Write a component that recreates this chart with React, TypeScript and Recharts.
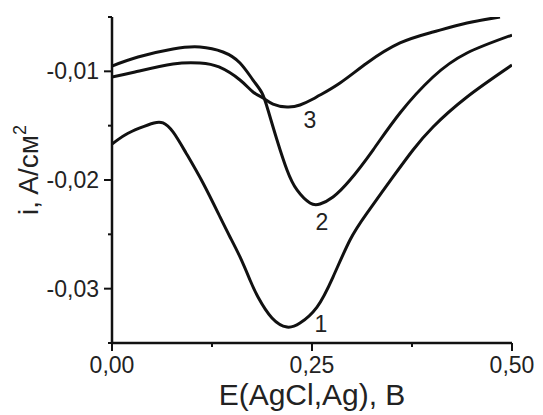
import React from 'react';
import { LineChart, Line, XAxis, YAxis, ReferenceDot, Label } from 'recharts';

// Curve 1
const curve1X = [0, 0.01625, 0.035, 0.0525, 0.06375, 0.07625, 0.0925, 0.11375, 0.135, 0.1475, 0.16, 0.1725, 0.1825, 0.2, 0.21875, 0.235, 0.25625, 0.27625, 0.2975, 0.31875, 0.35125, 0.37625, 0.40125, 0.44375, 0.5];
const curve1Y = [-0.01669, -0.01586, -0.01521, -0.01475, -0.01475, -0.01558, -0.01751, -0.02028, -0.0234, -0.02524, -0.02708, -0.0292, -0.03077, -0.0327, -0.03353, -0.03316, -0.03169, -0.02893, -0.02552, -0.02304, -0.01972, -0.01724, -0.01512, -0.01236, -0.00942];

// Curve 2
const curve2X = [0, 0.0325, 0.07625, 0.11, 0.13875, 0.16, 0.17625, 0.1875, 0.195, 0.20625, 0.21875, 0.23125, 0.2475, 0.26, 0.27625, 0.2975, 0.32625, 0.36, 0.40125, 0.44375, 0.5];
const curve2Y = [-0.00951, -0.00868, -0.00794, -0.00776, -0.00822, -0.00923, -0.0108, -0.01199, -0.01356, -0.01632, -0.01908, -0.02092, -0.02212, -0.02221, -0.02156, -0.02, -0.01724, -0.01383, -0.01052, -0.00831, -0.00666];

// Curve 3
const curve3X = [0, 0.02875, 0.07625, 0.11, 0.13375, 0.16, 0.17625, 0.18875, 0.20125, 0.21875, 0.235, 0.25125, 0.26, 0.285, 0.31875, 0.36, 0.40125, 0.44375, 0.485];
const curve3Y = [-0.01052, -0.01006, -0.00932, -0.00923, -0.0096, -0.0108, -0.0119, -0.01245, -0.01301, -0.01328, -0.0131, -0.01255, -0.01218, -0.01107, -0.00923, -0.00739, -0.00638, -0.00555, -0.005];

const curveLabels = ['1', '2', '3'];
const curveLabelX = [0.26125, 0.2625, 0.2475];
const curveLabelY = [-0.03325, -0.02386, -0.01448];

const xTicks = [0, 0.125, 0.25, 0.375, 0.5];
const yTicks = [-0.035, -0.03, -0.025, -0.02, -0.015, -0.01, -0.005];

const xTitle = 'E(AgCl,Ag), B';
const yTitleMain = 'i, A/см';
const yTitleSup = '2';

const FONT = '"Liberation Sans", Arial, sans-serif';
const INK = '#111';

const toRows = (xs: number[], ys: number[]) => xs.map((x, i) => ({ x, y: ys[i] }));
const isMajor = (v: number, step: number) => Math.abs(v / step - Math.round(v / step)) < 1e-6;
const fmt = (v: number) => v.toFixed(2).replace('.', ',');

const YTick = (props: any) => {
  const { x, y, payload } = props;
  const v = payload.value as number;
  const major = isMajor(v, 0.01);
  return (
    <g>
      <line x1={x - (major ? 8 : 4)} x2={x} y1={y} y2={y} stroke={INK} strokeWidth={2} />
      {major && (
        <text x={x - 13} y={y + 8} textAnchor="end" fontSize={23} fill="#222" fontFamily={FONT}>
          {fmt(v)}
        </text>
      )}
    </g>
  );
};

const XTick = (props: any) => {
  const { x, y, payload } = props;
  const v = payload.value as number;
  const major = isMajor(v, 0.25);
  return (
    <g>
      <line x1={x} x2={x} y1={y} y2={y + (major ? 8 : 4)} stroke={INK} strokeWidth={2} />
      {major && (
        <text x={x} y={y + 30} textAnchor="middle" fontSize={23} fill="#222" fontFamily={FONT}>
          {fmt(v)}
        </text>
      )}
    </g>
  );
};

export default function App() {
  const series = [toRows(curve1X, curve1Y), toRows(curve2X, curve2Y), toRows(curve3X, curve3Y)];
  return (
    <div style={{ width: 535, height: 407 }}>
      <LineChart width={535} height={407} margin={{ top: 9, right: 31, left: 14, bottom: 0 }}>
        <XAxis
          type="number"
          dataKey="x"
          domain={[0, 0.5]}
          ticks={xTicks}
          allowDataOverflow
          tickSize={0}
          tickMargin={0}
          tickLine={false}
          tick={<XTick />}
          axisLine={{ stroke: INK, strokeWidth: 2.5 }}
          height={72}
          interval={0}
        >
          <Label
            content={(p: any) => {
              const vb = p.viewBox;
              return (
                <text x={vb.x + vb.width / 2} y={vb.y + 62} textAnchor="middle" fontSize={30} fill="#222" fontFamily={FONT}>
                  {xTitle}
                </text>
              );
            }}
          />
        </XAxis>
        <YAxis
          type="number"
          dataKey="y"
          domain={[-0.035, -0.005]}
          ticks={yTicks}
          allowDataOverflow
          tickSize={0}
          tickMargin={0}
          tickLine={false}
          tick={<YTick />}
          axisLine={{ stroke: INK, strokeWidth: 2.5 }}
          width={90}
          interval={0}
        >
          <Label
            content={(p: any) => {
              const vb = p.viewBox;
              const cy = vb.y + vb.height / 2 - 10;
              return (
                <text transform={`translate(${vb.x + 16}, ${cy}) rotate(-90)`} textAnchor="middle" fontSize={28} fill="#222" fontFamily={FONT}>
                  {yTitleMain}
                  <tspan fontSize={18} dy={-12}>{yTitleSup}</tspan>
                </text>
              );
            }}
          />
        </YAxis>
        {series.map((d, i) => (
          <Line
            key={i}
            data={d}
            dataKey="y"
            type="natural"
            stroke={INK}
            strokeWidth={3}
            dot={false}
            activeDot={false}
            isAnimationActive={false}
          />
        ))}
        {curveLabels.map((t, i) => (
          <ReferenceDot
            key={t}
            x={curveLabelX[i]}
            y={curveLabelY[i]}
            r={0}
            fill="none"
            stroke="none"
            label={{ value: t, position: 'center', fontSize: 23, fill: '#222', fontFamily: FONT }}
          />
        ))}
      </LineChart>
    </div>
  );
}
